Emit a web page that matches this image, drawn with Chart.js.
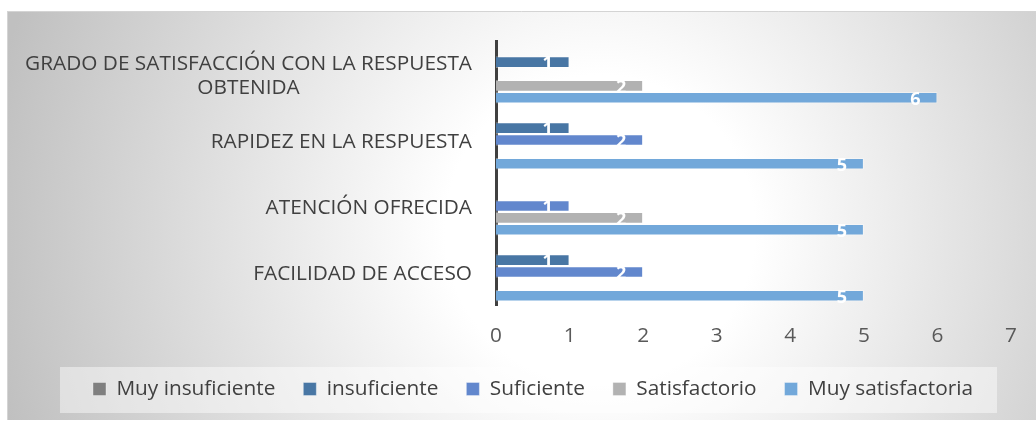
<!DOCTYPE html>
<html>
<head>
<meta charset="utf-8">
<script src="https://cdn.jsdelivr.net/npm/chart.js@4/dist/chart.umd.min.js"></script>
<style>
  html, body { margin: 0; padding: 0; background: #ffffff; }
  canvas { display: block; }
</style>
</head>
<body>
<canvas id="c" width="1036" height="421"></canvas>
<script>
const categories = [
  ["GRADO DE SATISFACCIÓN CON LA RESPUESTA", "OBTENIDA"],
  "RAPIDEZ EN LA RESPUESTA",
  "ATENCIÓN OFRECIDA",
  "FACILIDAD DE ACCESO"
];
const seriesNames = ["Muy insuficiente", "insuficiente", "Suficiente", "Satisfactorio", "Muy satisfactoria"];
const muyInsuficiente = [null, null, null, null];
const insuficiente = [1, 1, null, 1];
const suficiente = [null, 2, 1, 2];
const satisfactorio = [2, null, 2, null];
const muySatisfactoria = [6, 5, 5, 5];
const xTicks = [0, 1, 2, 3, 4, 5, 6, 7];

const seriesColors = ["#7F7F7F", "#4876A4", "#6287CD", "#B2B2B2", "#72A8DA"];
const FONT = "'Open Sans', 'DejaVu Sans', sans-serif";
const FS = 20.8;

const bgPlugin = {
  id: 'bg',
  beforeDraw(chart) {
    const ctx = chart.ctx;
    ctx.save();
    ctx.fillStyle = '#ffffff';
    ctx.fillRect(0, 0, chart.width, chart.height);
    const g = ctx.createRadialGradient(600, 230, 0, 600, 230, 620);
    g.addColorStop(0, '#FFFFFF');
    g.addColorStop(0.25, '#FFFFFF');
    g.addColorStop(1, '#C0C0C0');
    ctx.fillStyle = g;
    ctx.fillRect(7, 11, chart.width - 7, 409);
    ctx.strokeStyle = '#D4D4D4';
    ctx.lineWidth = 1;
    ctx.beginPath();
    ctx.moveTo(7, 11.5); ctx.lineTo(chart.width, 11.5);
    ctx.moveTo(7.5, 11); ctx.lineTo(7.5, 420);
    ctx.stroke();
    const hb = chart.legend && chart.legend.legendHitBoxes;
    if (hb && hb.length) {
      const first = hb[0], last = hb[hb.length - 1];
      const cy = first.top + first.height / 2;
      const l = first.left - 33, r = last.left + last.width + 24;
      ctx.fillStyle = 'rgba(255,255,255,0.45)';
      ctx.fillRect(l, cy - 22, r - l, 46);
    }
    ctx.restore();
  }
};

const labelPlugin = {
  id: 'labels',
  afterDatasetsDraw(chart) {
    const ctx = chart.ctx;
    ctx.save();
    ctx.font = "bold 18px " + FONT;
    ctx.fillStyle = '#FFFFFF';
    ctx.textAlign = 'center';
    ctx.textBaseline = 'middle';
    chart.data.datasets.forEach((ds, di) => {
      const meta = chart.getDatasetMeta(di);
      meta.data.forEach((el, i) => {
        const v = ds.data[i];
        if (v === null || v === undefined) return;
        ctx.fillText(String(v), el.x - 22, el.y + 2);
      });
    });
    ctx.restore();
  },
  afterDraw(chart) {
    const ctx = chart.ctx;
    const ys = chart.scales.y;
    ctx.save();
    ctx.font = FS + "px " + FONT;
    ctx.fillStyle = '#404040';
    ctx.textAlign = 'center';
    ctx.textBaseline = 'middle';
    const right = chart.chartArea.left - 24;
    const lh = 24;
    chart.data.labels.forEach((lab, i) => {
      const lines = Array.isArray(lab) ? lab : [lab];
      const maxW = Math.max(...lines.map(t => ctx.measureText(t).width));
      const cy = ys.getPixelForTick(i) + 2;
      lines.forEach((t, j) => {
        const yy = cy + (j - (lines.length - 1) / 2) * lh;
        ctx.fillText(t, right - maxW / 2, yy);
      });
    });
    ctx.restore();
  }
};

const seriesData = [muyInsuficiente, insuficiente, suficiente, satisfactorio, muySatisfactoria];

new Chart(document.getElementById('c'), {
  type: 'bar',
  data: {
    labels: categories,
    datasets: seriesNames.map((name, i) => ({
      label: name,
      data: seriesData[i],
      backgroundColor: seriesColors[i],
      borderColor: 'rgba(255,255,255,0.35)',
      borderWidth: 1,
      categoryPercentage: 0.9,
      barPercentage: 0.98
    }))
  },
  options: {
    indexAxis: 'y',
    responsive: false,
    devicePixelRatio: 1,
    animation: false,
    layout: { padding: { left: 53, right: 23, top: 41, bottom: 11.6 } },
    plugins: {
      legend: {
        position: 'bottom',
        labels: {
          boxWidth: 13,
          boxHeight: 13,
          padding: 28,
          color: '#404040',
          font: { family: FONT, size: FS }
        }
      },
      tooltip: { enabled: false }
    },
    scales: {
      x: {
        min: 0,
        max: 7,
        afterBuildTicks(scale) { scale.ticks = xTicks.map(v => ({ value: v })); },
        afterFit(scale) { scale.height = 45.6; },
        grid: { display: false, drawTicks: false },
        border: { display: false },
        ticks: {
          color: '#595959',
          padding: 19,
          font: { family: FONT, size: FS }
        }
      },
      y: {
        z: 1,
        afterFit(scale) { scale.width = 443; },
        grid: { display: true, color: 'rgba(0,0,0,0)', drawTicks: false },
        border: { display: true, color: '#404040', width: 3 },
        ticks: { display: false }
      }
    }
  },
  plugins: [bgPlugin, labelPlugin]
});
</script>
</body>
</html>
